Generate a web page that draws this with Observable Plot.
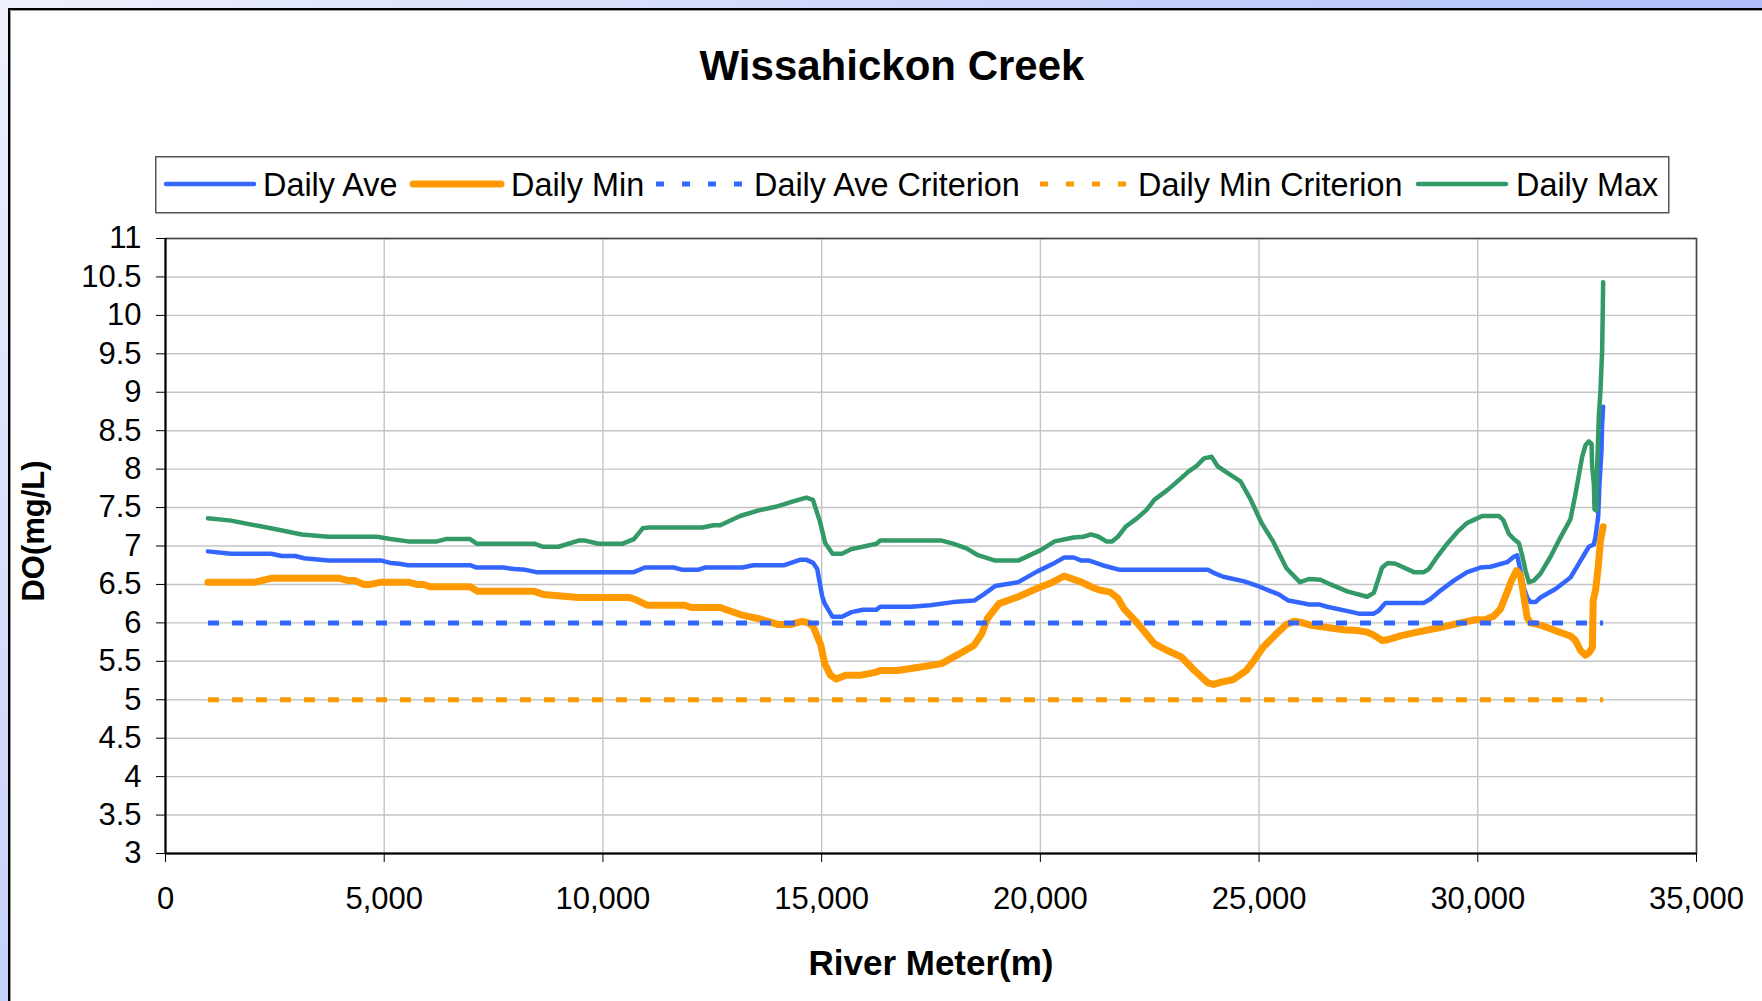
<!DOCTYPE html>
<html>
<head>
<meta charset="utf-8">
<script src="https://cdn.jsdelivr.net/npm/d3@7"></script>
<script src="https://cdn.jsdelivr.net/npm/@observablehq/plot@0.6"></script>
<style>
  html, body { margin: 0; padding: 0; }
  body { width: 1762px; height: 1001px; position: relative; overflow: hidden; background: #dfe5fc;
         font-family: "Liberation Sans", Arial, sans-serif; }
  #stripTop { position: absolute; left: 0; top: 0; width: 1762px; height: 9px;
              background: linear-gradient(to right, #eef0fc, #c9d3fb 60%, #afbffa); }
  #stripLeft { position: absolute; left: 0; top: 0; width: 9px; height: 1001px;
               background: linear-gradient(to bottom, #eef0fc, #c6d1fb); }
  #frame { position: absolute; left: 8px; top: 8px; width: 1800px; height: 1100px; background: #fff;
           border-left: 2px solid #000; border-top: 2px solid #000; box-shadow: inset 1px 1px 0 #999; }
  #title { position: absolute; left: 392px; top: 45px; width: 1000px; text-align: center;
           font-size: 42px; font-weight: bold; line-height: 42px; color: #000; }
  #legend { position: absolute; left: 155px; top: 156px; }
  #chart { position: absolute; left: 0; top: 220px; }
  #xtitle { position: absolute; left: 631px; top: 943px; width: 600px; text-align: center;
            font-size: 35px; font-weight: bold; line-height: 40px; }
  #ytitle { position: absolute; left: -116px; top: 511px; width: 300px; height: 40px; text-align: center;
            font-size: 31px; font-weight: bold; line-height: 40px; transform: rotate(-90deg); }
</style>
</head>
<body>
<div id="stripTop"></div>
<div id="stripLeft"></div>
<div id="frame"></div>
<div id="title">Wissahickon Creek</div>
<div id="legend"></div>
<div id="chart"></div>
<div id="xtitle">River Meter(m)</div>
<div id="ytitle">DO(mg/L)</div>
<script>
// ---- data (river meter, DO mg/L) ----
const maxX = [971,1498,2409,3117,3724,4837,5141,5546,6204,6406,6963,7114,8430,8633,8987,9442,9594,9898,10454,10707,10909,11061,12275,12529,12681,13136,13541,13946,14350,14650,14800,14960,15080,15250,15464,15683,16253,16340,17742,18005,18311,18574,18968,19494,20019,20326,20589,20764,20983,21158,21333,21509,21640,21771,21947,22209,22428,22604,22910,23173,23392,23567,23742,23917,24049,24224,24575,24794,25057,25320,25626,25933,26138,26404,26633,27014,27471,27623,27814,27943,28119,28538,28766,28880,29071,29300,29528,29757,29909,30100,30481,30580,30709,30824,30938,31014,31091,31167,31281,31433,31662,31852,32119,32234,32386,32462,32539,32600,32615,32653,32668,32714,32729,32767,32805,32843,32855,32866];
const maxY = [7.36,7.33,7.23,7.15,7.12,7.12,7.09,7.06,7.06,7.09,7.09,7.03,7.03,6.99,6.99,7.07,7.07,7.03,7.03,7.09,7.23,7.24,7.24,7.27,7.27,7.39,7.46,7.51,7.58,7.63,7.60,7.32,7.04,6.90,6.90,6.96,7.03,7.07,7.07,7.03,6.97,6.88,6.81,6.81,6.95,7.06,7.09,7.11,7.12,7.15,7.12,7.06,7.06,7.12,7.25,7.36,7.47,7.60,7.73,7.86,7.97,8.04,8.14,8.16,8.04,7.97,7.84,7.62,7.30,7.06,6.71,6.53,6.57,6.56,6.50,6.41,6.34,6.39,6.72,6.78,6.77,6.66,6.66,6.70,6.86,7.03,7.18,7.30,7.34,7.39,7.39,7.34,7.16,7.09,7.04,6.88,6.68,6.53,6.55,6.64,6.86,7.07,7.35,7.68,8.16,8.31,8.36,8.33,8.03,7.81,7.48,7.46,8.03,8.68,9.02,9.54,9.98,10.43];

const aveX = [971,1498,2409,2662,2966,3168,3724,4939,5141,5343,5546,6963,7114,7722,7975,8228,8481,10707,10960,11618,11820,12174,12326,13187,13440,14148,14502,14654,14806,14900,15010,15070,15245,15464,15683,15946,16253,16340,17041,17479,18005,18487,18705,18968,19494,19932,20326,20545,20764,20939,21115,21421,21815,23830,24005,24180,24662,25013,25451,25670,26152,26371,26557,27052,27281,27623,27738,27890,28766,28918,29147,29452,29757,30062,30290,30671,30824,30900,30976,31052,31129,31205,31319,31433,31776,32119,32310,32539,32653,32691,32752,32782,32828,32843,32866];
const aveY = [6.93,6.90,6.90,6.87,6.87,6.84,6.81,6.81,6.78,6.77,6.75,6.75,6.72,6.72,6.70,6.69,6.66,6.66,6.72,6.72,6.69,6.69,6.72,6.72,6.75,6.75,6.82,6.82,6.78,6.70,6.35,6.25,6.08,6.08,6.14,6.17,6.17,6.21,6.21,6.23,6.27,6.29,6.37,6.48,6.53,6.67,6.78,6.85,6.85,6.81,6.81,6.75,6.69,6.69,6.64,6.60,6.54,6.47,6.37,6.29,6.24,6.24,6.21,6.15,6.12,6.12,6.16,6.26,6.26,6.31,6.42,6.55,6.66,6.72,6.73,6.79,6.86,6.88,6.68,6.46,6.33,6.27,6.27,6.33,6.44,6.59,6.77,6.99,7.02,7.12,7.38,7.81,8.24,8.59,8.81];

const minX = [971,2054,2409,3977,4180,4331,4534,4686,4939,5546,5748,5900,6052,6963,7135,8430,8633,9442,10606,10757,11010,11871,12023,12681,13187,13592,13997,14300,14553,14700,14807,14982,15070,15201,15333,15552,15902,16253,16340,16734,17304,17742,18093,18487,18662,18793,19056,19494,19932,20282,20545,20939,21158,21333,21596,21771,21903,22166,22385,22604,22866,23217,23523,23830,23961,24136,24399,24706,24881,25101,25364,25626,25802,25933,26176,26557,26938,27243,27471,27623,27814,27928,28233,28614,29224,29605,29947,30176,30366,30519,30671,30785,30885,30976,31067,31129,31205,31433,31586,31814,32119,32234,32348,32462,32539,32620,32638,32691,32752,32805,32866];
const minY = [6.53,6.53,6.58,6.58,6.55,6.55,6.50,6.50,6.53,6.53,6.50,6.50,6.47,6.47,6.41,6.41,6.37,6.33,6.33,6.30,6.23,6.23,6.20,6.20,6.10,6.05,5.98,5.98,6.02,6.00,5.95,5.71,5.47,5.32,5.27,5.32,5.32,5.36,5.38,5.38,5.43,5.47,5.58,5.71,5.86,6.06,6.25,6.34,6.45,6.53,6.61,6.53,6.47,6.43,6.40,6.32,6.19,6.03,5.88,5.73,5.65,5.56,5.38,5.22,5.20,5.23,5.26,5.38,5.51,5.69,5.84,5.98,6.02,6.01,5.97,5.94,5.91,5.90,5.88,5.84,5.77,5.78,5.83,5.88,5.95,6.00,6.04,6.04,6.09,6.18,6.40,6.57,6.68,6.62,6.29,6.07,6.00,5.97,5.94,5.89,5.83,5.77,5.64,5.58,5.61,5.68,6.29,6.42,6.72,7.07,7.25];

const critX = [971, 32866];
const aveCrit = [6, 6];
const minCrit = [5, 5];

const xTicks = [0, 5000, 10000, 15000, 20000, 25000, 30000, 35000];
const yTicks = [3, 3.5, 4, 4.5, 5, 5.5, 6, 6.5, 7, 7.5, 8, 8.5, 9, 9.5, 10, 10.5, 11];

const seriesNames = ["Daily Ave", "Daily Min", "Daily Ave Criterion", "Daily Min Criterion", "Daily Max"];
const seriesColors = ["#3366ff", "#ff9900", "#3366ff", "#ff9900", "#339966"];

// ---- build tables ----
const rows = (xs, ys) => xs.map((x, i) => ({x, y: ys[i]}));
const aveRows = rows(aveX, aveY);
const minRows = rows(minX, minY);
const maxRows = rows(maxX, maxY);
const aveCritRows = rows(critX, aveCrit);
const minCritRows = rows(critX, minCrit);

const lineOpts = {x: "x", y: "y", strokeLinejoin: "round", strokeLinecap: "round"};

const chart = Plot.plot({
  width: 1762,
  height: 760,
  marginLeft: 165,
  marginRight: 66,
  marginTop: 18,
  marginBottom: 127,
  style: {fontFamily: "'Liberation Sans', Arial, sans-serif", fontSize: "31px", color: "#000", background: "transparent", overflow: "visible"},
  x: {domain: [0, 35000], label: null},
  y: {domain: [3, 11], label: null},
  marks: [
    Plot.gridY(yTicks, {stroke: "#c4c4c4", strokeOpacity: 1, strokeWidth: 1.4}),
    Plot.gridX(xTicks, {stroke: "#c4c4c4", strokeOpacity: 1, strokeWidth: 1.4}),
    Plot.frame({stroke: "#444", strokeWidth: 1.6}),
    Plot.ruleX([0], {stroke: "#000", strokeWidth: 2}),
    Plot.ruleY([3], {stroke: "#000", strokeWidth: 2}),
    Plot.axisY(yTicks, {tickSize: 9, tickPadding: 15, tickFormat: d => String(d), fontSize: 31, stroke: "#000"}),
    Plot.axisX(xTicks, {tickSize: 9, tickPadding: 24, tickFormat: d3.format(","), fontSize: 31, stroke: "#000"}),
    Plot.line(aveRows, {...lineOpts, stroke: seriesColors[0], strokeWidth: 4.5}),
    Plot.line(minRows, {...lineOpts, stroke: seriesColors[1], strokeWidth: 7}),
    Plot.line(aveCritRows, {...lineOpts, stroke: seriesColors[2], strokeWidth: 5, strokeDasharray: "11,13", strokeLinecap: "butt"}),
    Plot.line(minCritRows, {...lineOpts, stroke: seriesColors[3], strokeWidth: 5, strokeDasharray: "11,13", strokeLinecap: "butt"}),
    Plot.line(maxRows, {...lineOpts, stroke: seriesColors[4], strokeWidth: 4.5})
  ]
});
document.getElementById("chart").appendChild(chart);

// ---- legend ----
const legendW = 1513, legendH = 56;
const sampleX = [11, 258, 500, 884, 1263];
const textX = [108, 356, 599, 983, 1361];
const sampleW = [4.5, 7, 5, 5, 4.5];
const dashed = [false, false, true, true, false];
const svg = d3.create("svg").attr("width", legendW + 2).attr("height", legendH + 2)
  .style("font-family", "'Liberation Sans', Arial, sans-serif").style("overflow", "visible");
svg.append("rect").attr("x", 0.75).attr("y", 0.75).attr("width", legendW).attr("height", legendH)
  .attr("fill", "#fff").attr("stroke", "#555").attr("stroke-width", 1.5);
seriesNames.forEach((name, i) => {
  const l = svg.append("line").attr("x1", sampleX[i]).attr("x2", sampleX[i] + 88)
    .attr("y1", 28).attr("y2", 28).attr("stroke", seriesColors[i]).attr("stroke-width", sampleW[i]);
  if (dashed[i]) l.attr("stroke-dasharray", "8,18").attr("stroke-dashoffset", -1);
  else l.attr("stroke-linecap", "round");
  svg.append("text").attr("x", textX[i]).attr("y", 40).attr("font-size", 32.4).attr("fill", "#000").text(name);
});
document.getElementById("legend").appendChild(svg.node());
</script>
</body>
</html>
